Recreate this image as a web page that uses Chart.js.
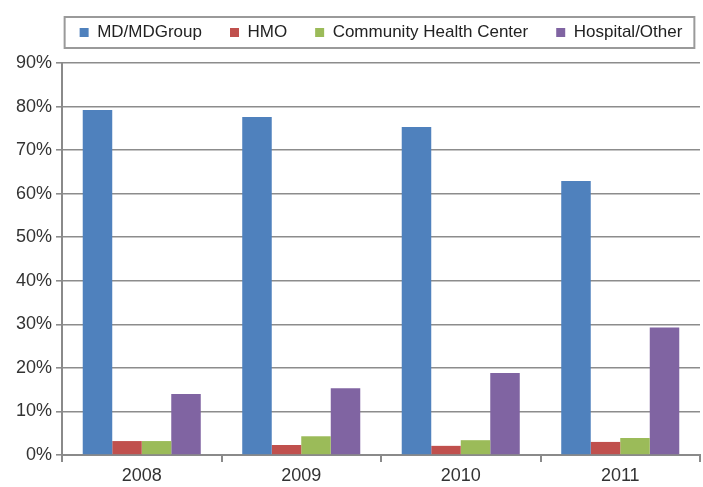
<!DOCTYPE html>
<html>
<head>
<meta charset="utf-8">
<script src="https://cdn.jsdelivr.net/npm/chart.js@4"></script>
<style>
  html, body { margin: 0; padding: 0; background: #fff; }
  #wrap { width: 703px; height: 487px; }
</style>
</head>
<body>
<div id="wrap"><canvas id="settingChart" width="703" height="487"></canvas></div>
<script>
// values, in percent
const years = ['2008', '2009', '2010', '2011'];
const mdGroup = [79.2, 77.6, 75.3, 62.9];
const hmo = [3.2, 2.3, 2.1, 3.0];
const communityHealth = [3.2, 4.3, 3.4, 3.9];
const hospitalOther = [14.0, 15.3, 18.8, 29.3];
const yTicks = [0, 10, 20, 30, 40, 50, 60, 70, 80, 90];

// box around the legend, legend centred over the plot, some room below it
const legendBorder = {
    id: 'legendBorder',
    beforeInit(chart) {
        const fit = chart.legend.fit;
        chart.legend.fit = function() {
            fit.bind(chart.legend)();
            this.height += 12;
        };
    },
    afterLayout(chart) {
        const lg = chart.legend, area = chart.chartArea;
        const shift = (area.left + area.right) / 2 - (lg.left + lg.right) / 2;
        lg.left += shift;
        lg.right += shift;
    },
    afterDraw(chart) {
        const boxes = chart.legend && chart.legend.legendHitBoxes;
        if (!boxes || !boxes.length) return;
        let l = Infinity, r = -Infinity, t = Infinity, b = -Infinity;
        boxes.forEach(function(h) {
            l = Math.min(l, h.left); r = Math.max(r, h.left + h.width);
            t = Math.min(t, h.top); b = Math.max(b, h.top + h.height);
        });
        const ctx = chart.ctx;
        ctx.save();
        ctx.strokeStyle = '#9a9a9a';
        ctx.lineWidth = 2;
        ctx.strokeRect(l - 15, t - 7, (r - l) + 27, (b - t) + 14);
        ctx.restore();
    }
};

const ctx = document.getElementById('settingChart').getContext('2d');
new Chart(ctx, {
    type: 'bar',
    data: {
        labels: years,
        datasets: [
            { label: 'MD/MDGroup', data: mdGroup, backgroundColor: '#4f81bd' },
            { label: 'HMO', data: hmo, backgroundColor: '#c0504d' },
            { label: 'Community Health Center', data: communityHealth, backgroundColor: '#9bbb59' },
            { label: 'Hospital/Other', data: hospitalOther, backgroundColor: '#8064a2' }
        ]
    },
    plugins: [legendBorder],
    options: {
        responsive: false,
        animation: false,
        layout: { padding: { top: -4, right: 3, left: 0, bottom: 0 } },
        datasets: {
            bar: { barPercentage: 1.0, categoryPercentage: 0.74 }
        },
        plugins: {
            legend: {
                position: 'top',
                labels: {
                    boxWidth: 9,
                    boxHeight: 9,
                    padding: 28,
                    color: '#222',
                    font: { family: 'Liberation Sans, Arial, sans-serif', size: 17 }
                }
            },
            tooltip: { enabled: false }
        },
        scales: {
            x: {
                grid: {
                    offset: true,
                    drawOnChartArea: false,
                    drawTicks: true,
                    tickLength: 7,
                    color: '#8a8a8a',
                    lineWidth: 2
                },
                border: { color: '#8a8a8a', width: 2 },
                ticks: {
                    color: '#333',
                    padding: 3,
                    font: { family: 'Liberation Sans, Arial, sans-serif', size: 18 }
                },
                afterFit: function(scale) { scale.height = 32; }
            },
            y: {
                min: 0,
                max: 90,
                afterBuildTicks: function(scale) {
                    scale.ticks = yTicks.map(function(v) { return { value: v }; });
                },
                grid: {
                    color: '#8c8c8c',
                    lineWidth: 1.6,
                    tickLength: 6
                },
                border: { color: '#8a8a8a', width: 2 },
                ticks: {
                    color: '#333',
                    padding: 4,
                    font: { family: 'Liberation Sans, Arial, sans-serif', size: 18 },
                    callback: function(v) { return v + '%'; }
                },
                afterFit: function(scale) { scale.width = 62; }
            }
        }
    }
});
</script>
</body>
</html>
